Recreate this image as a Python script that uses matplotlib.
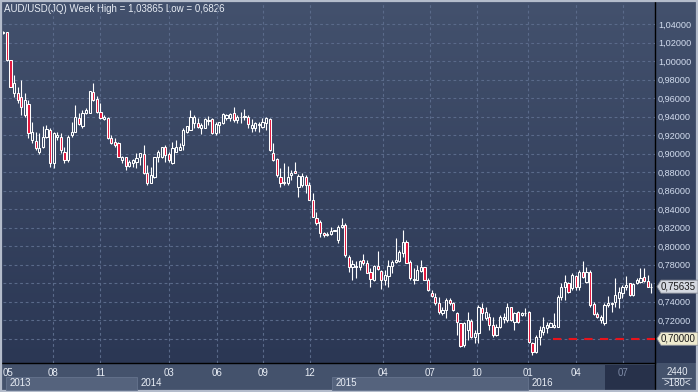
import numpy as np
import matplotlib.pyplot as plt
import matplotlib.transforms as mtransforms
from matplotlib.colors import LinearSegmentedColormap
from matplotlib.patches import Rectangle, Polygon

plt.rcParams['font.family'] = ['Liberation Sans', 'DejaVu Sans']

# AUD/USD weekly candles
opens = [1.0302, 1.0313, 1.0014, 0.9654, 0.9654, 0.9611, 0.9420, 0.9538, 0.9149, 0.9138,
         0.9023, 0.9077, 0.9185, 0.9257, 0.8897, 0.9178, 0.9185, 0.9023, 0.8933, 0.9203,
         0.9239, 0.9391, 0.9301, 0.9438, 0.9438, 0.9672, 0.9589, 0.9456, 0.9376, 0.9391,
         0.9167, 0.9131, 0.9113, 0.8933, 0.8962, 0.8872, 0.8904, 0.8915, 0.8969, 0.8998,
         0.8789, 0.8681, 0.8753, 0.8969, 0.8969, 0.9077, 0.8998, 0.8897, 0.9023, 0.9041,
         0.9095, 0.9239, 0.9257, 0.9337, 0.9337, 0.9275, 0.9275, 0.9358, 0.9373, 0.9221,
         0.9311, 0.9337, 0.9383, 0.9383, 0.9438, 0.9365, 0.9395, 0.9395, 0.9395, 0.9275,
         0.9275, 0.9308, 0.9293, 0.9329, 0.9373, 0.9012, 0.8940, 0.8753, 0.8681, 0.8681,
         0.8771, 0.8818, 0.8645, 0.8663, 0.8753, 0.8663, 0.8500, 0.8302, 0.8266, 0.8147,
         0.8122, 0.8133, 0.8169, 0.8068, 0.8212, 0.8230, 0.7888, 0.7773, 0.7780, 0.7773,
         0.7852, 0.7816, 0.7726, 0.7636, 0.7787, 0.7733, 0.7636, 0.7679, 0.7787, 0.7834,
         0.7845, 0.7924, 0.8050, 0.7834, 0.7636, 0.7636, 0.7737, 0.7773, 0.7636, 0.7499,
         0.7448, 0.7383, 0.7283, 0.7311, 0.7420, 0.7391, 0.7283, 0.7167, 0.6933, 0.7095,
         0.7196, 0.7023, 0.7059, 0.7329, 0.7221, 0.7232, 0.7149, 0.7041, 0.7131, 0.7210,
         0.7203, 0.7340, 0.7185, 0.7293, 0.7257, 0.7275, 0.7293, 0.6951, 0.6861, 0.7023,
         0.7077, 0.7113, 0.7131, 0.7131, 0.7131, 0.7455, 0.7564, 0.7600, 0.7546, 0.7679,
         0.7564, 0.7726, 0.7618, 0.7726, 0.7373, 0.7268, 0.7203, 0.7167, 0.7365, 0.7376,
         0.7401, 0.7437, 0.7491, 0.7564, 0.7600, 0.7473, 0.7600, 0.7618, 0.7665, 0.7628,
         0.7556]
highs = [1.0330, 1.0313, 1.0014, 0.9852, 0.9726, 0.9798, 0.9654, 0.9582, 0.9347, 0.9239,
         0.9221, 0.9301, 0.9311, 0.9275, 0.9239, 0.9239, 0.9221, 0.9077, 0.9203, 0.9347,
         0.9528, 0.9438, 0.9474, 0.9492, 0.9683, 0.9762, 0.9625, 0.9553, 0.9420, 0.9402,
         0.9203, 0.9167, 0.9131, 0.8976, 0.8969, 0.8933, 0.8940, 0.9005, 0.9012, 0.9095,
         0.8879, 0.8861, 0.8969, 0.9041, 0.9077, 0.9095, 0.9023, 0.9131, 0.9149, 0.9113,
         0.9275, 0.9304, 0.9474, 0.9420, 0.9383, 0.9337, 0.9383, 0.9409, 0.9383, 0.9347,
         0.9347, 0.9438, 0.9430, 0.9438, 0.9510, 0.9420, 0.9456, 0.9481, 0.9420, 0.9373,
         0.9347, 0.9347, 0.9383, 0.9402, 0.9383, 0.9113, 0.8951, 0.8843, 0.8897, 0.8868,
         0.8825, 0.8915, 0.8782, 0.8789, 0.8771, 0.8699, 0.8573, 0.8374, 0.8284, 0.8158,
         0.8158, 0.8205, 0.8180, 0.8230, 0.8302, 0.8248, 0.7906, 0.7852, 0.7845, 0.7852,
         0.7917, 0.7852, 0.7762, 0.7798, 0.7949, 0.7744, 0.7744, 0.7852, 0.7852, 0.8086,
         0.7960, 0.8176, 0.8068, 0.7852, 0.7762, 0.7798, 0.7852, 0.7780, 0.7654, 0.7528,
         0.7491, 0.7455, 0.7347, 0.7437, 0.7437, 0.7401, 0.7293, 0.7174, 0.7185, 0.7293,
         0.7210, 0.7095, 0.7365, 0.7383, 0.7347, 0.7275, 0.7239, 0.7160, 0.7257, 0.7275,
         0.7391, 0.7347, 0.7293, 0.7304, 0.7293, 0.7329, 0.7304, 0.6969, 0.7041, 0.7138,
         0.7239, 0.7185, 0.7185, 0.7275, 0.7473, 0.7600, 0.7690, 0.7618, 0.7708, 0.7690,
         0.7744, 0.7845, 0.7780, 0.7744, 0.7401, 0.7293, 0.7257, 0.7383, 0.7463, 0.7401,
         0.7654, 0.7564, 0.7582, 0.7679, 0.7607, 0.7600, 0.7654, 0.7762, 0.7762, 0.7690,
         0.7600]
lows = [1.0295, 1.0000, 0.9719, 0.9618, 0.9546, 0.9420, 0.9402, 0.9167, 0.9113, 0.9041,
        0.8998, 0.9059, 0.9167, 0.8861, 0.8843, 0.9149, 0.9005, 0.8897, 0.8915, 0.9185,
        0.9239, 0.9311, 0.9275, 0.9430, 0.9438, 0.9574, 0.9445, 0.9373, 0.9365, 0.9156,
        0.9106, 0.9077, 0.8962, 0.8897, 0.8825, 0.8854, 0.8861, 0.8843, 0.8879, 0.8782,
        0.8659, 0.8681, 0.8735, 0.8915, 0.8951, 0.8915, 0.8915, 0.8890, 0.9023, 0.9041,
        0.9041, 0.9221, 0.9257, 0.9275, 0.9275, 0.9214, 0.9275, 0.9311, 0.9214, 0.9203,
        0.9228, 0.9322, 0.9365, 0.9358, 0.9347, 0.9337, 0.9329, 0.9365, 0.9275, 0.9239,
        0.9250, 0.9239, 0.9275, 0.9257, 0.9034, 0.8926, 0.8753, 0.8645, 0.8663, 0.8663,
        0.8717, 0.8789, 0.8537, 0.8645, 0.8573, 0.8501, 0.8320, 0.8230, 0.8104, 0.8104,
        0.8111, 0.8122, 0.8165, 0.8032, 0.8194, 0.7888, 0.7726, 0.7636, 0.7654, 0.7744,
        0.7798, 0.7708, 0.7564, 0.7628, 0.7744, 0.7535, 0.7582, 0.7556, 0.7708, 0.7816,
        0.7834, 0.7888, 0.7816, 0.7636, 0.7592, 0.7636, 0.7726, 0.7636, 0.7521, 0.7455,
        0.7365, 0.7268, 0.7257, 0.7221, 0.7365, 0.7304, 0.7041, 0.6915, 0.6915, 0.6987,
        0.7005, 0.6951, 0.6951, 0.7203, 0.7203, 0.7095, 0.7023, 0.7030, 0.7113, 0.7167,
        0.7185, 0.7196, 0.7095, 0.7167, 0.7246, 0.7246, 0.6951, 0.6826, 0.6843, 0.6933,
        0.7041, 0.7059, 0.7124, 0.7113, 0.7124, 0.7420, 0.7420, 0.7491, 0.7528, 0.7528,
        0.7528, 0.7654, 0.7600, 0.7347, 0.7257, 0.7221, 0.7167, 0.7149, 0.7347, 0.7293,
        0.7347, 0.7329, 0.7437, 0.7528, 0.7463, 0.7463, 0.7592, 0.7600, 0.7618, 0.7556,
        0.7491]
closes = [1.0320, 1.0014, 0.9726, 0.9762, 0.9582, 0.9510, 0.9582, 0.9221, 0.9239, 0.9059,
          0.9059, 0.9178, 0.9265, 0.8897, 0.9221, 0.9203, 0.9041, 0.8933, 0.9185, 0.9239,
          0.9402, 0.9322, 0.9438, 0.9474, 0.9683, 0.9582, 0.9456, 0.9383, 0.9395, 0.9167,
          0.9113, 0.9095, 0.8969, 0.8969, 0.8872, 0.8915, 0.8933, 0.8951, 0.9005, 0.8789,
          0.8681, 0.8771, 0.8969, 0.9023, 0.9077, 0.8987, 0.8933, 0.9059, 0.9077, 0.9077,
          0.9257, 0.9301, 0.9402, 0.9402, 0.9286, 0.9311, 0.9373, 0.9365, 0.9221, 0.9322,
          0.9347, 0.9430, 0.9420, 0.9427, 0.9365, 0.9402, 0.9402, 0.9409, 0.9322, 0.9308,
          0.9329, 0.9319, 0.9340, 0.9383, 0.9041, 0.8933, 0.8771, 0.8681, 0.8699, 0.8753,
          0.8796, 0.8796, 0.8760, 0.8760, 0.8663, 0.8501, 0.8320, 0.8248, 0.8140, 0.8122,
          0.8133, 0.8169, 0.8176, 0.8212, 0.8230, 0.7906, 0.7773, 0.7809, 0.7787, 0.7845,
          0.7816, 0.7715, 0.7643, 0.7787, 0.7751, 0.7636, 0.7690, 0.7787, 0.7834, 0.7852,
          0.7942, 0.8050, 0.7823, 0.7654, 0.7643, 0.7744, 0.7773, 0.7636, 0.7528, 0.7463,
          0.7383, 0.7293, 0.7311, 0.7420, 0.7383, 0.7311, 0.7185, 0.6922, 0.7167, 0.7203,
          0.7023, 0.7059, 0.7347, 0.7283, 0.7293, 0.7149, 0.7041, 0.7131, 0.7239, 0.7239,
          0.7347, 0.7203, 0.7283, 0.7185, 0.7275, 0.7283, 0.6969, 0.6861, 0.7023, 0.7095,
          0.7131, 0.7149, 0.7167, 0.7149, 0.7455, 0.7564, 0.7618, 0.7510, 0.7690, 0.7564,
          0.7726, 0.7665, 0.7726, 0.7365, 0.7268, 0.7232, 0.7239, 0.7365, 0.7383, 0.7383,
          0.7473, 0.7510, 0.7564, 0.7582, 0.7473, 0.7592, 0.7636, 0.7654, 0.7628, 0.7564,
          0.75635]

month_labels = ['05', '08', '11', '03', '06', '09', '12', '04', '07', '10', '01', '04', '07']
month_pos = [1.2, 13.8, 26.9, 46.0, 59.4, 72.1, 85.2, 105.5, 118.5, 131.6, 145.75, 159.1, 172.1]
year_labels = ['2013', '2014', '2015', '2016']
year_start = [0.75, 37.1, 91.3, 145.75]
price_ticks = [0.70, 0.72, 0.74, 0.76, 0.78, 0.80, 0.82, 0.84, 0.86, 0.88,
               0.90, 0.92, 0.94, 0.96, 0.98, 1.00, 1.02, 1.04]
support_level = 0.70
support_start = 152.7
title = 'AUD/USD(JQ) Week High = 1,03865 Low = 0,6826'

W, H = 698, 392
fig = plt.figure(figsize=(W / 100, H / 100), dpi=100)

# background in pixel coordinates
bg = fig.add_axes([0, 0, 1, 1])
bg.set_xlim(0, W)
bg.set_ylim(H, 0)
bg.axis('off')
cmap = LinearSegmentedColormap.from_list('bgc', ['#43516d', '#2b3754'])
bg.imshow(np.linspace(0, 1, 256).reshape(-1, 1), cmap=cmap, extent=[0, W, 363, 0], aspect='auto')
bg.add_patch(Rectangle((0, 363), W, 29, fc='#44526c', ec='none'))
# darker "current window" box in the time strip
bg.add_patch(Rectangle((605, 365), 50, 25, fc='#27314a', ec='none'))
bg.plot([655, 655], [0, H], color='black', lw=1)
bg.plot([0, 655], [363, 363], color='black', lw=1)
for xs, ys in [([0.5, 0.5], [0, H]), ([0, W], [0.7, 0.7]), ([0, W], [391.3, 391.3]), ([697.3, 697.3], [0, H])]:
    bg.plot(xs, ys, color='#b4bccb', lw=1.6)
bg.text(4, 8.5, title, color='#e8edf5', fontsize=7, va='center', ha='left')
bg.text(677, 372, '2440', color='#e8edf5', fontsize=7, va='center', ha='center')
bg.plot([662, 691], [377.5, 377.5], color='#aab4c6', lw=0.8)
bg.text(677, 383.5, '>180<', color='#e8edf5', fontsize=7, va='center', ha='center')

# main chart
ax = fig.add_axes([3 / W, 29 / H, 652 / W, 360 / H])
ax.patch.set_alpha(0)
for s in ax.spines.values():
    s.set_visible(False)
n = len(closes)
ax.set_xlim(-0.083, 181.03)
ax.set_ylim(0.6738, 1.0630)

# tick labels hidden behind the price markers are left blank
markers = [closes[-1], support_level]
ax.set_yticks(price_ticks)
ax.set_yticklabels(['' if min(abs(v - m) for m in markers) < 0.006 else f'{v:.5f}'.replace('.', ',')
                    for v in price_ticks])
ax.yaxis.tick_right()
ax.tick_params(axis='y', length=0, pad=2.2, labelsize=6.6, labelcolor='#d2dcee')
ax.grid(axis='y', color='#5a6a8a', ls=(0, (2.5, 2.5)), lw=0.8)
ax.set_xticks(month_pos)
ax.set_xticklabels(month_labels)
ax.tick_params(axis='x', length=0, pad=3.6, labelsize=7, labelcolor='#e8edf5')
ax.get_xticklabels()[-1].set_color('#7d8aa6')
ax.vlines(month_pos[1:], 0.6738, 1.0630, color='#5a6a8a', ls=(0, (2.5, 2.5)), lw=0.8, zorder=1)

idx = np.arange(n)
o = np.array(opens)
h = np.array(highs)
l = np.array(lows)
c = np.array(closes)
up = c >= o
top = np.maximum(o, c)
bot = np.minimum(o, c)
ax.vlines(idx, top, h, color='white', lw=0.8, zorder=3)
ax.vlines(idx, l, bot, color='white', lw=0.8, zorder=3)
ax.bar(idx, np.maximum(top - bot, 0.0006), bottom=bot, width=0.56,
       color=np.where(up, '#36435f', '#e3163c'), edgecolor='white', linewidth=0.75, zorder=4)

ax.hlines(support_level, support_start, 181.03, colors='#e8141c', linestyles=(0, (4, 3.5)), lw=1.5, zorder=5)

# price markers on the right scale
blend = mtransforms.blended_transform_factory(ax.transAxes, ax.transData)
for val, fc in zip(markers, ['#d5d9e1', '#efebcf']):
    tr = fig.dpi_scale_trans + mtransforms.ScaledTranslation(1.0, val, blend)
    pts = np.array([[2, 0], [6, 6.5], [43, 6.5], [43, -6.5], [6, -6.5]]) / 100
    fig.add_artist(Polygon(pts, closed=True, transform=tr, fc=fc, ec='#8a8f99', lw=0.6, zorder=10))
    fig.text(0, 0, f'{val:.5f}'.replace('.', ','), transform=tr + mtransforms.Affine2D().translate(6, 0),
             fontsize=7, color='#1a1a1a', va='center', ha='left', zorder=11)

# year strip
strip = fig.add_axes([3 / W, 0, 652 / W, 29 / H], sharex=ax)
strip.patch.set_alpha(0)
strip.axis('off')
strip.set_ylim(0, 29)
ends = year_start[1:] + [181.03]
for i, (lab, x0, x1) in enumerate(zip(year_labels, year_start, ends)):
    if i % 2 == 0:
        strip.add_patch(Rectangle((x0, 2), x1 - x0, 13, fc='#55637d', ec='#66748e', lw=0.6))
    strip.text(x0 + 1.0, 9, lab, color='#e8edf5', fontsize=7, va='center', ha='left')
ax.set_xlim(-0.083, 181.03)

fig.savefig('out.png', dpi=100)
